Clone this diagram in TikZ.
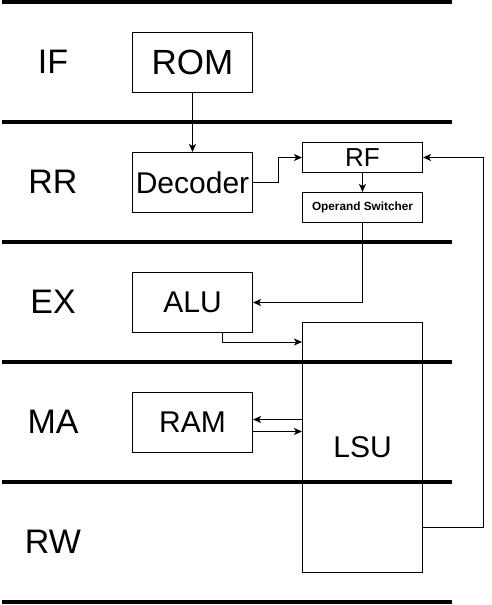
\documentclass[tikz,border=0pt]{standalone}
\usepackage{fontspec}
\setmainfont{Liberation Sans}
\usetikzlibrary{arrows.meta,calc}
\begin{document}
\begin{tikzpicture}[x=1pt,y=-1pt,
  box/.style={draw, line width=1pt, anchor=north west, inner sep=0pt, minimum width=120pt, minimum height=60pt},
  stage/.style={font=\fontsize{34}{38}\selectfont},
  bigtxt/.style={font=\fontsize{35}{38}\selectfont},
  midtxt/.style={font=\fontsize{30}{34}\selectfont},
  sep/.style={line width=4pt, draw=black},
  arr/.style={line width=1pt, -{Stealth[length=8pt,width=7pt,inset=2pt]}}]
\useasboundingbox (0,0) rectangle (491,605);
% separators
\foreach \yy in {2,122,242,362,482,602} \draw[sep] (2,\yy) -- (452,\yy);
% stage labels
\node[stage] (if) at (53,62) {IF};
\node[stage] (rr) at (53,182) {RR};
\node[stage] (ex) at (53,302) {EX};
\node[stage] (ma) at (53,422) {MA};
\node[stage] (rw) at (53,542) {RW};
% boxes
\node[box, bigtxt] (rom) at (132,32) {ROM};
\node[box, midtxt] (dec) at (132,152) {Decoder};
\node[box, minimum height=30pt, font=\fontsize{26}{30}\selectfont] (rf) at (302,142) {RF};
\node[box, minimum height=30pt, font=\bfseries\fontsize{11.8}{13}\selectfont] (os) at (302,192) {Operand Switcher};
\node[box, midtxt] (alu) at (132,272) {ALU};
\node[box, midtxt] (ram) at (132,392) {RAM};
\node[box, minimum height=250pt, midtxt] (lsu) at (302,322) {LSU};
% connectors
\draw[arr] (rom.south) -- (dec.north);
\draw[arr] (dec.east) -- ++(25,0) |- (rf.west);
\draw[arr] (rf.south) -- (os.north);
\draw[arr] (os.south) |- (alu.east);
\draw[arr] ([xshift=30pt]alu.south) |- ($(lsu.north west)+(0,20)$);
\draw[arr] ($(ram.east -| lsu.west)+(0,-3)$) -- ($(ram.east)+(0,-3)$);
\draw[arr] ($(ram.east)+(0,9)$) -- ($(ram.east -| lsu.west)+(0,9)$);
\draw[arr] ($(lsu.east)+(0,80)$) -- ++(60,0) |- (rf.east);
\end{tikzpicture}
\end{document}
